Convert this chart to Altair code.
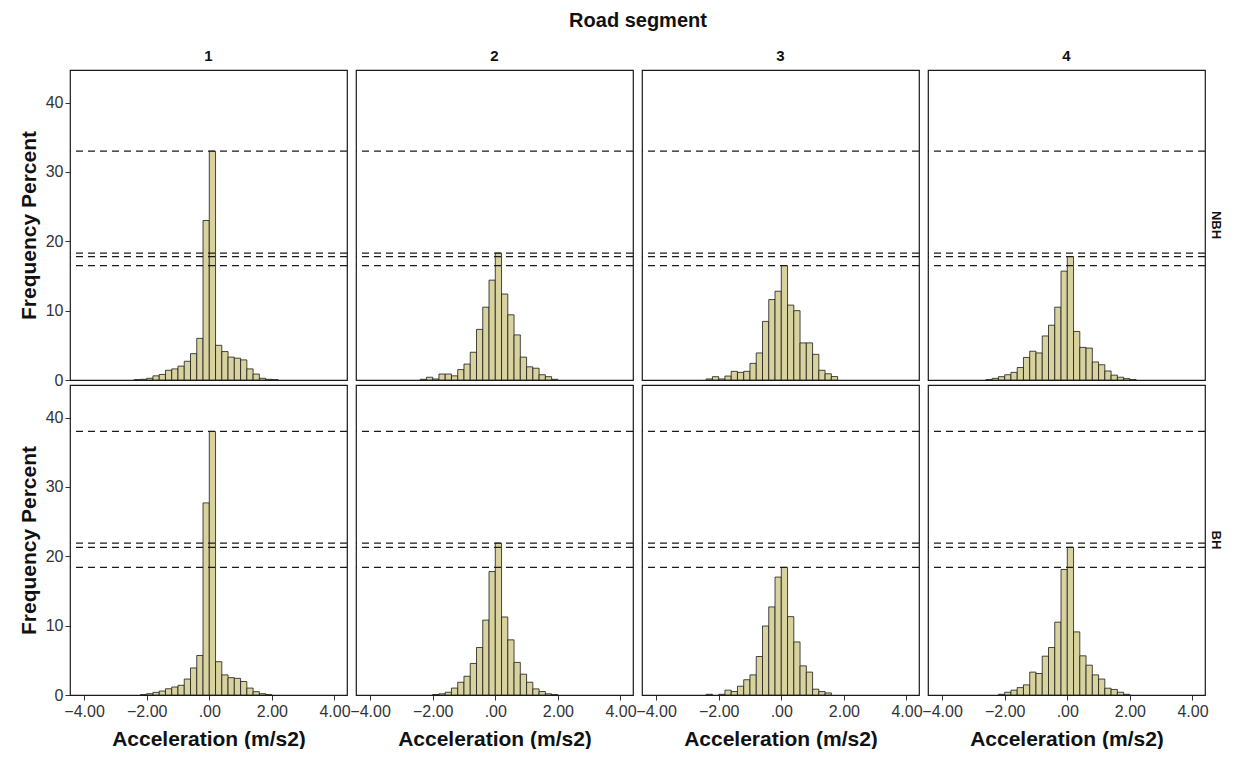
import altair as alt
import pandas as pd

# Left edges of histogram bins (width 0.2 m/s2)
bin_lefts = [-2.6, -2.4, -2.2, -2.0, -1.8, -1.6, -1.4, -1.2, -1.0, -0.8, -0.6, -0.4, -0.2,
             0.0, 0.2, 0.4, 0.6, 0.8, 1.0, 1.2, 1.4, 1.6, 1.8, 2.0, 2.2]
bin_width = 0.2

groups = ["NBH", "BH"]
segments = [1, 2, 3, 4]

# Frequency percent per bin
nbh_1 = [0.0, 0.05, 0.1, 0.25, 0.6, 0.8, 1.4, 1.6, 2.0, 2.7, 3.8, 6.0, 23.0,
         33.0, 5.0, 4.1, 3.3, 3.15, 2.9, 1.6, 0.86, 0.25, 0.1, 0.05, 0.0]
nbh_2 = [0.0, 0.1, 0.4, 0.15, 0.86, 0.86, 0.6, 1.5, 2.3, 4.0, 7.3, 10.5, 14.4,
         18.3, 12.4, 9.4, 6.5, 3.3, 1.9, 1.7, 0.76, 0.48, 0.1, 0.0, 0.0]
nbh_3 = [0.0, 0.15, 0.48, 0.15, 0.57, 1.25, 1.1, 1.25, 2.4, 3.9, 8.45, 11.6, 12.8,
         16.5, 10.8, 10.0, 5.35, 5.35, 3.7, 1.4, 0.9, 0.5, 0.0, 0.0, 0.0]
nbh_4 = [0.05, 0.24, 0.48, 0.76, 1.1, 1.8, 3.25, 4.15, 3.9, 6.35, 7.9, 10.5, 15.7,
         17.8, 7.0, 4.7, 4.6, 2.6, 2.2, 1.3, 0.7, 0.4, 0.2, 0.05, 0.0]
bh_1 = [0.0, 0.0, 0.05, 0.19, 0.38, 0.57, 0.9, 1.15, 1.4, 2.3, 3.9, 5.7, 27.7,
        38.0, 4.8, 2.9, 2.5, 2.4, 1.95, 1.0, 0.48, 0.19, 0.05, 0.0, 0.0]
bh_2 = [0.0, 0.0, 0.0, 0.07, 0.17, 0.4, 1.0, 1.84, 2.7, 4.55, 6.85, 10.8, 17.8,
        21.9, 11.25, 7.95, 4.7, 3.0, 1.84, 0.88, 0.5, 0.17, 0.05, 0.0, 0.0]
bh_3 = [0.0, 0.1, 0.0, 0.1, 0.7, 0.5, 1.27, 2.2, 2.9, 5.55, 9.95, 12.7, 17.0,
        18.4, 11.3, 7.65, 4.2, 3.3, 0.84, 0.5, 0.3, 0.0, 0.0, 0.0, 0.0]
bh_4 = [0.0, 0.0, 0.1, 0.4, 0.7, 1.07, 1.46, 3.3, 3.1, 5.6, 6.85, 10.5, 18.1,
        21.3, 9.1, 5.65, 4.3, 2.9, 2.3, 0.98, 0.8, 0.4, 0.1, 0.0, 0.0]

series = {
    ("NBH", 1): nbh_1, ("NBH", 2): nbh_2, ("NBH", 3): nbh_3, ("NBH", 4): nbh_4,
    ("BH", 1): bh_1, ("BH", 2): bh_2, ("BH", 3): bh_3, ("BH", 4): bh_4,
}

x_ticks = [-4, -2, 0, 2, 4]
y_ticks = [0, 10, 20, 30, 40]

rows = []
for (g, s), vals in series.items():
    for left, v in zip(bin_lefts, vals):
        if v > 0:
            rows.append({"group": g, "segment": s, "kind": "bar",
                         "x0": left, "x1": round(left + bin_width, 2), "pct": v})
# dashed reference lines: the peak of every panel, drawn across its whole row
for g in groups:
    peaks = [max(series[(g, s)]) for s in segments]
    for s in segments:
        for p in peaks:
            rows.append({"group": g, "segment": s, "kind": "rule",
                         "x0": 0.0, "x1": 0.0, "pct": p})
df = pd.DataFrame(rows)

FONT = "Liberation Sans"

xscale = alt.Scale(domain=[-4.45, 4.4], nice=False, zero=False)
yscale = alt.Scale(domain=[0, 44.7], nice=False)

bars = alt.Chart().transform_filter(alt.datum.kind == "bar").mark_bar(
    fill="#d8d39e", stroke="#1a1a1a", strokeWidth=0.8
).encode(
    x=alt.X("x0:Q", scale=xscale,
            axis=alt.Axis(values=x_ticks, title="Acceleration (m/s2)",
                          labelExpr="datum.value == 0 ? '.00' : format(datum.value, '.2f')",
                          grid=False)),
    x2="x1:Q",
    y=alt.Y("pct:Q", scale=yscale,
            axis=alt.Axis(values=y_ticks, title="Frequency Percent", grid=False)),
    y2=alt.datum(0),
)

rules = alt.Chart().transform_filter(alt.datum.kind == "rule").mark_rule(
    color="#1a1a1a", strokeWidth=1.2, strokeDash=[7, 5]
).encode(y=alt.Y("pct:Q", scale=yscale))

chart = alt.layer(bars, rules).properties(width=277, height=310).facet(
    data=df,
    row=alt.Row("group:N", sort=groups, title=None,
                header=alt.Header(labelOrient="right", labelAngle=90,
                                  labelFontWeight="bold", labelFontSize=13,
                                  labelFont=FONT, labelPadding=4, labelColor="#111")),
    column=alt.Column("segment:O", sort=segments, title="Road segment",
                      header=alt.Header(labelOrient="top", titleOrient="top",
                                        labelFontWeight="bold", labelFontSize=15,
                                        labelFont=FONT, labelPadding=6, labelColor="#111",
                                        titleFont=FONT, titleFontSize=20,
                                        titleFontWeight="bold", titleColor="#111",
                                        titlePadding=8)),
    spacing={"row": 5, "column": 9},
    bounds="flush",
).properties(
    padding={"left": 10, "top": 3, "right": 5, "bottom": 0}
).configure_view(
    stroke="#1a1a1a", strokeWidth=1.2
).configure_axis(
    labelFont=FONT, labelFontSize=16, labelColor="#333",
    titleFont=FONT, titleFontSize=21, titleFontWeight="bold", titleColor="#111",
    domain=False, tickColor="#333", tickSize=5,
).configure_axisY(
    titlePadding=6, labelPadding=2,
).configure_axisX(
    titlePadding=9, labelPadding=3,
)

chart.save("out.html", embed_options={"renderer": "svg", "actions": False})
